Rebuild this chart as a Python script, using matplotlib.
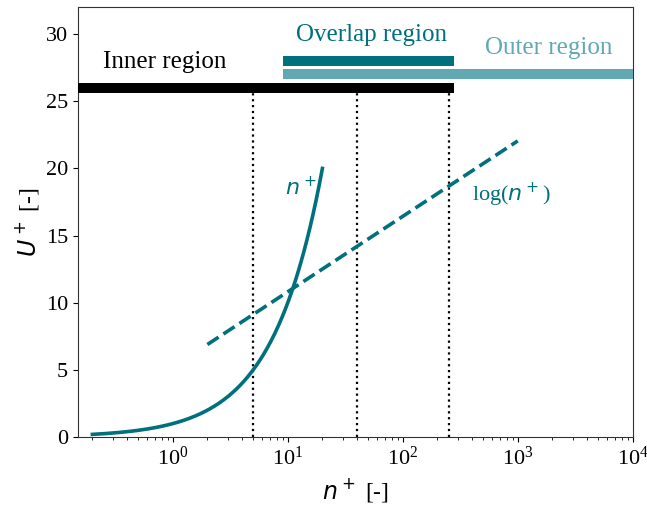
import numpy as np
import matplotlib
matplotlib.use("Agg")
import matplotlib.pyplot as plt

plt.rcParams["font.family"] = ["Liberation Serif", "DejaVu Serif"]
plt.rcParams["mathtext.fontset"] = "dejavusans"

# Colours
DARK_TEAL = "#00717c"
LIGHT_TEAL = "#62a8b3"

# Viscous sublayer: U+ = n+
visc_range = [0.2, 20.0]
# Log law: U+ = (1/kappa) ln(n+) + B
kappa = 0.41
B = 5.2
log_range = [2.0, 1000.0]

# Region boundaries (vertical dotted lines)
boundaries = [5, 40, 250]

# Region bars: (start, end, level)
inner_bar = (0.15, 250, 26)
overlap_bar = (10, 250, 28)
outer_bar = (10, 1e4, 27)

x_limits = (0.15, 1e4)
y_limits = (0, 32)
y_ticks = [0, 5, 10, 15, 20, 25, 30]

fig = plt.figure(figsize=(6.47, 5.16), dpi=100)
ax = fig.add_axes([0.1206, 0.153, 0.8574, 0.833])

# Viscous sublayer curve
n_visc = np.geomspace(visc_range[0], visc_range[1], 300)
ax.plot(n_visc, n_visc, color=DARK_TEAL, lw=2.6, zorder=3)

# Log-law line
n_log = np.geomspace(log_range[0], log_range[1], 100)
ax.plot(n_log, np.log(n_log) / kappa + B, color=DARK_TEAL, lw=2.6,
        ls=(0, (3.7, 1.6)), zorder=3)

# Region boundaries
for xb in boundaries:
    ax.plot([xb, xb], [0, inner_bar[2]], color="black", lw=1.6, ls=":", zorder=2)

# Region bars
ax.plot(inner_bar[:2], [inner_bar[2]] * 2, color="black", lw=7.2,
        solid_capstyle="projecting", zorder=4)
ax.plot(overlap_bar[:2], [overlap_bar[2]] * 2, color=DARK_TEAL, lw=7.2,
        solid_capstyle="projecting", zorder=4)
ax.plot(outer_bar[:2], [outer_bar[2]] * 2, color=LIGHT_TEAL, lw=7.2,
        solid_capstyle="projecting", zorder=4)

# Region labels
ax.text(0.245, 27.5, "Inner region", fontsize=18, color="black", va="baseline")
ax.text(11.7, 29.5, "Overlap region", fontsize=18, color=DARK_TEAL, va="baseline")
ax.text(520, 28.5, "Outer region", fontsize=18, color=LIGHT_TEAL, va="baseline")

# Curve labels
ax.text(9.4, 18.0, "$n^+$", fontsize=16, color=DARK_TEAL, va="baseline")
ax.text(400, 17.6, "log($n^+$)", fontsize=16, color=DARK_TEAL, va="baseline")

ax.set_xscale("log")
ax.set_xlim(*x_limits)
ax.set_ylim(*y_limits)
ax.set_yticks(y_ticks)
ax.tick_params(axis="both", labelsize=16)
for spine in ax.spines.values():
    spine.set_color("#333333")

ax.set_xlabel("$n^+$ [-]", fontsize=17)
ax.set_ylabel("$U^+$ [-]", fontsize=17)

fig.savefig("out.png", dpi=100)
